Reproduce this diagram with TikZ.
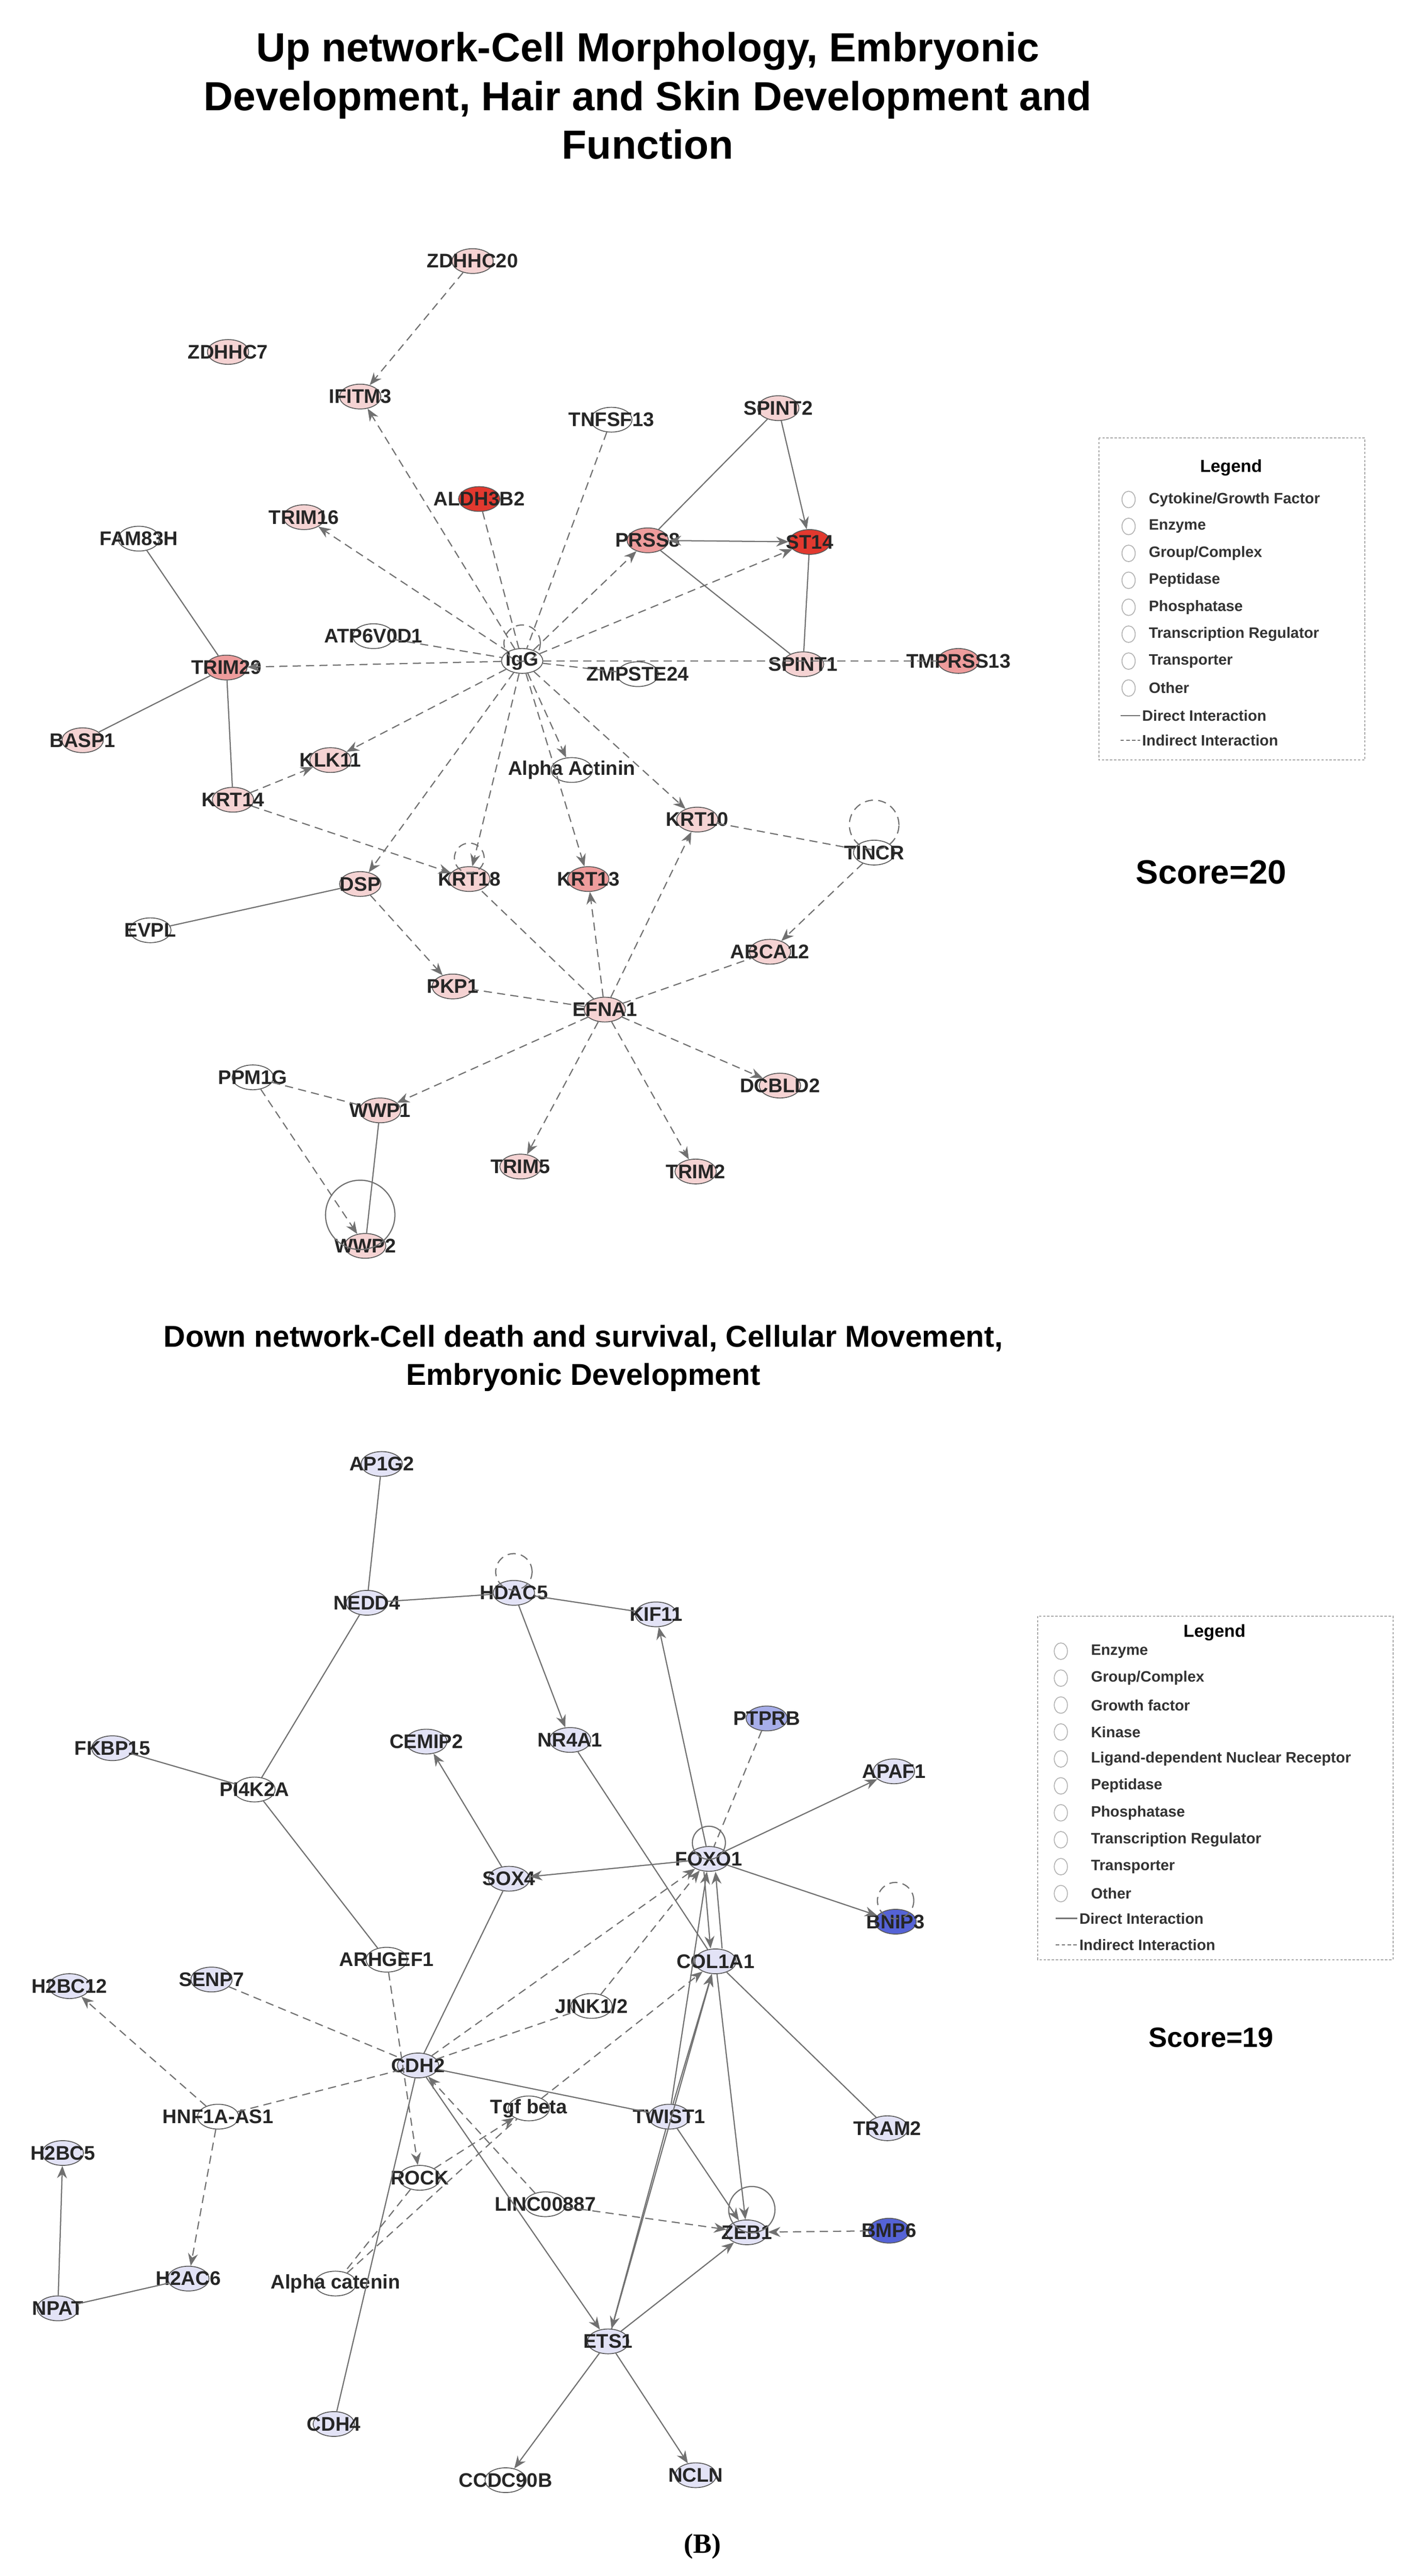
\documentclass[tikz,border=0pt]{standalone}
\usepackage{fontspec}
\setmainfont{Liberation Sans}
\newfontfamily\serifB{Liberation Serif}
\usetikzlibrary{arrows.meta,shapes.geometric}

\definecolor{upLight}{HTML}{F5D3D3}
\definecolor{upMid}{HTML}{EE9C9C}
\definecolor{upStrong}{HTML}{E2392F}
\definecolor{dnLight}{HTML}{E3E3F6}
\definecolor{dnMid}{HTML}{A7AEEA}
\definecolor{dnStrong}{HTML}{5563D6}
\definecolor{edgeGray}{HTML}{707070}

\tikzset{
  gene/.style={ellipse, draw=gray!70!black, line width=1.5pt, fill=#1,
    minimum width=2.5cm, minimum height=1.5cm, inner sep=0pt},
  glabel/.style={font=\fontsize{34}{36}\selectfont\bfseries, text=black!85},
  direct/.style={draw=edgeGray, line width=2pt},
  indirect/.style={draw=edgeGray, line width=2pt, dash pattern=on 14pt off 9pt},
  arr/.style={-{Stealth[length=0.75cm,width=0.6cm]}},
  legtext/.style={font=\fontsize{26}{28}\selectfont\bfseries, anchor=west, text=black!80},
  legicon/.style={draw=gray!60, line width=1.5pt, minimum size=0.9cm, inner sep=0pt}
}
\newcommand{\gene}[5]{\node[gene=#5, label={[glabel]center:#4}] (#1) at (#2,#3) {};}

\begin{document}
\begin{tikzpicture}[x=0.1cm, y=-0.1cm]
\useasboundingbox (0,0) rectangle (850,1559);
\clip (18,0) rectangle (850,1559);

% titles
\node[font=\fontsize{70}{84}\selectfont\bfseries, align=center] (t1) at (392,58)
  {Up network-Cell Morphology, Embryonic\\Development, Hair and Skin Development and\\Function};
\node[font=\fontsize{52}{66}\selectfont\bfseries, align=center] (t2) at (353,822)
  {Down network-Cell death and survival, Cellular Movement,\\Embryonic Development};
\node[font=\fontsize{58}{60}\selectfont\bfseries] (s1) at (733,528) {Score=20};
\node[font=\fontsize{48}{50}\selectfont\bfseries] (s2) at (733,1233) {Score=19};
\node[font=\fontsize{48}{50}\selectfont\bfseries\serifB] (b) at (425,1541) {(B)};

% up network
\gene{zdhhc20}{286}{158}{ZDHHC20}{upLight}
\gene{zdhhc7}{138}{213}{ZDHHC7}{upLight}
\gene{ifitm3}{218}{240}{IFITM3}{upLight}
\gene{tnfsf13}{370}{254}{TNFSF13}{white}
\gene{spint2}{471}{247}{SPINT2}{upLight}
\gene{aldh}{290}{302}{ALDH3B2}{upStrong}
\gene{fam}{84}{326}{FAM83H}{white}
\gene{trim16}{184}{313}{TRIM16}{upLight}
\gene{prss8}{392}{327}{PRSS8}{upMid}
\gene{st14}{490}{328}{ST14}{upStrong}
\gene{atp}{226}{385}{ATP6V0D1}{white}
\gene{igg}{316}{400}{IgG}{white}
\gene{zmp}{386}{408}{ZMPSTE24}{white}
\gene{spint1}{486}{402}{SPINT1}{upLight}
\gene{tmprss}{580}{400}{TMPRSS13}{upMid}
\gene{trim29}{137}{404}{TRIM29}{upMid}
\gene{basp}{50}{448}{BASP1}{upLight}
\gene{klk11}{200}{460}{KLK11}{upLight}
\gene{actinin}{346}{466}{Alpha Actinin}{white}
\gene{krt14}{141}{484}{KRT14}{upLight}
\gene{krt10}{422}{496}{KRT10}{upLight}
\gene{tincr}{529}{516}{TINCR}{white}
\gene{dsp}{218}{535}{DSP}{upLight}
\gene{krt18}{284}{532}{KRT18}{upLight}
\gene{krt13}{356}{532}{KRT13}{upMid}
\gene{evpl}{91}{563}{EVPL}{white}
\gene{abca}{466}{576}{ABCA12}{upLight}
\gene{pkp1}{274}{597}{PKP1}{upLight}
\gene{efna1}{366}{611}{EFNA1}{upLight}
\gene{dcbld}{472}{657}{DCBLD2}{upLight}
\gene{ppm}{153}{652}{PPM1G}{white}
\gene{wwp1}{230}{672}{WWP1}{upLight}
\gene{trim5}{315}{706}{TRIM5}{upLight}
\gene{trim2}{421}{709}{TRIM2}{upLight}
\gene{wwp2}{221}{754}{WWP2}{upLight}

\draw[indirect, arr] (zdhhc20) -- (ifitm3);
\draw[indirect, arr] (igg) -- (ifitm3);
\draw[indirect, arr] (igg) -- (trim16);
\draw[indirect] (tnfsf13) -- (igg);
\draw[indirect] (aldh) -- (igg);
\draw[indirect, arr] (igg) -- (prss8);
\draw[indirect, arr] (igg) -- (st14);
\draw[direct] (spint2) -- (prss8);
\draw[direct, arr] (spint2) -- (st14);
\draw[direct, {Stealth[length=0.75cm,width=0.6cm]}-{Stealth[length=0.75cm,width=0.6cm]}] (prss8) -- (st14);
\draw[direct] (prss8) -- (spint1);
\draw[direct] (st14) -- (spint1);
\draw[indirect] (atp) -- (igg);
\draw[indirect, arr] (igg) -- (trim29);
\draw[indirect] (igg) -- (zmp);
\draw[indirect] (igg) -- (tmprss);
\draw[direct] (fam) -- (trim29);
\draw[direct] (trim29) -- (basp);
\draw[direct] (trim29) -- (krt14);
\draw[indirect, arr] (krt14) -- (klk11);
\draw[indirect, arr] (igg) -- (klk11);
\draw[indirect, arr] (igg) -- (actinin);
\draw[indirect, arr] (igg) -- (krt10);
\draw[indirect, arr] (igg) -- (krt13);
\draw[indirect, arr] (igg) -- (krt18);
\draw[indirect, arr] (igg) -- (dsp);
\draw[indirect, arr] (krt14) -- (krt18);
\draw[indirect] (igg.north) ++(0,-3) circle[radius=1.1cm];
\draw[indirect] (krt18.north) ++(0,-5) circle[radius=0.9cm];
\draw[indirect] (tincr.north) ++(0,-9) circle[radius=1.5cm];
\draw[indirect, arr] (tincr) -- (abca);
\draw[indirect] (krt10) -- (tincr);
\draw[indirect, arr] (efna1) -- (krt10);
\draw[indirect, arr] (efna1) -- (krt13);
\draw[indirect] (efna1) -- (krt18);
\draw[direct] (dsp) -- (evpl);
\draw[indirect, arr] (dsp) -- (pkp1);
\draw[indirect] (efna1) -- (pkp1);
\draw[indirect] (efna1) -- (abca);
\draw[indirect, arr] (efna1) -- (dcbld);
\draw[indirect, arr] (efna1) -- (trim2);
\draw[indirect, arr] (efna1) -- (trim5);
\draw[indirect, arr] (efna1) -- (wwp1);
\draw[indirect] (ppm) -- (wwp1);
\draw[indirect, arr] (ppm) -- (wwp2);
\draw[direct] (wwp1) -- (wwp2);
\draw[direct] (wwp2.north) ++(-3,-11) circle[radius=2.1cm];

% up legend
\draw[draw=gray!70, line width=2pt, dash pattern=on 4pt off 3pt] (665,265) rectangle (826,460);
\node[font=\fontsize{30}{32}\selectfont\bfseries] (leg1) at (745,283) {Legend};
\foreach \t [count=\i] in {Cytokine/Growth Factor, Enzyme, Group/Complex, Peptidase,
  Phosphatase, Transcription Regulator, Transporter, Other}{
  \node[legicon, ellipse, minimum width=0.8cm, minimum height=1cm] (li\i) at (683,{286+\i*16.3}) {};
  \node[legtext] (lt\i) at (694,{286+\i*16.3}) {\t};
}
\coordinate (ld1) at (678,433); \coordinate (ld2) at (690,433);
\draw[direct] (ld1) -- (ld2);
\node[legtext] (ldt) at (690,433) {Direct Interaction};
\coordinate (li1a) at (678,448); \coordinate (li2a) at (690,448);
\draw[indirect, dash pattern=on 6pt off 4pt] (li1a) -- (li2a);
\node[legtext] (lit) at (690,448) {Indirect Interaction};

% down network
\gene{ap1g2}{231}{886}{AP1G2}{dnLight}
\gene{nedd4}{222}{970}{NEDD4}{dnLight}
\gene{hdac5}{311}{964}{HDAC5}{dnLight}
\gene{kif11}{397}{977}{KIF11}{dnLight}
\gene{ptprb}{464}{1040}{PTPRB}{dnMid}
\gene{apaf1}{541}{1072}{APAF1}{dnLight}
\gene{fkbp}{68}{1058}{FKBP15}{dnLight}
\gene{cemip}{258}{1054}{CEMIP2}{dnLight}
\gene{nr4a1}{345}{1053}{NR4A1}{dnLight}
\gene{pi4k}{154}{1083}{PI4K2A}{white}
\gene{sox4}{308}{1137}{SOX4}{dnLight}
\gene{foxo1}{429}{1125}{FOXO1}{dnLight}
\gene{bnip3}{542}{1163}{BNIP3}{dnStrong}
\gene{arhgef}{234}{1186}{ARHGEF1}{white}
\gene{senp7}{128}{1198}{SENP7}{dnLight}
\gene{h2bc12}{42}{1202}{H2BC12}{dnLight}
\gene{jink}{358}{1214}{JINK1/2}{white}
\gene{col1a1}{433}{1187}{COL1A1}{dnLight}
\gene{cdh2}{253}{1250}{CDH2}{dnLight}
\gene{tgfb}{320}{1276}{Tgf beta}{white}
\gene{twist1}{405}{1281}{TWIST1}{dnLight}
\gene{tram2}{537}{1288}{TRAM2}{dnLight}
\gene{hnf}{132}{1281}{HNF1A-AS1}{white}
\gene{h2bc5}{38}{1303}{H2BC5}{dnLight}
\gene{rock}{254}{1318}{ROCK}{white}
\gene{linc}{330}{1334}{LINC00887}{white}
\gene{zeb1}{452}{1351}{ZEB1}{dnLight}
\gene{bmp6}{538}{1350}{BMP6}{dnStrong}
\gene{npat}{35}{1397}{NPAT}{dnLight}
\gene{h2ac6}{114}{1379}{H2AC6}{dnLight}
\gene{acat}{203}{1382}{Alpha catenin}{white}
\gene{ets1}{368}{1417}{ETS1}{dnLight}
\gene{cdh4}{202}{1467}{CDH4}{dnLight}
\gene{ccdc}{306}{1501}{CCDC90B}{white}
\gene{ncln}{421}{1498}{NCLN}{dnLight}

\draw[direct] (ap1g2) -- (nedd4);
\draw[direct] (nedd4) -- (hdac5);
\draw[direct] (hdac5) -- (kif11);
\draw[indirect] (hdac5.north) ++(0,-5) circle[radius=1.1cm];
\draw[direct, arr] (hdac5) -- (nr4a1);
\draw[direct] (nedd4) -- (pi4k);
\draw[direct] (fkbp) -- (pi4k);
\draw[direct] (pi4k) -- (arhgef);
\draw[indirect, arr] (arhgef) -- (rock);
\draw[direct] (nr4a1) -- (col1a1);
\draw[indirect] (ptprb) -- (foxo1);
\draw[direct, arr] (foxo1) -- (kif11);
\draw[direct, arr] (foxo1) -- (apaf1);
\draw[direct, arr] (foxo1) -- (bnip3);
\draw[indirect] (bnip3.north) ++(0,-5) circle[radius=1.1cm];
\draw[direct, arr] (foxo1) -- (sox4);
\draw[direct] (foxo1.north) ++(0,-2) circle[radius=1cm];
\draw[direct, arr] (sox4) -- (cemip);
\draw[direct] (sox4) -- (cdh2);
\draw[direct, arr] ([xshift=-0.3cm]foxo1.south) -- ([xshift=-0.3cm]col1a1.north);
\draw[direct, arr] ([xshift=0.4cm]col1a1.north) -- ([xshift=0.4cm]foxo1.south);
\draw[direct] (col1a1) -- (tram2);
\draw[direct, arr] (col1a1) -- (zeb1);
\draw[direct, arr] (twist1) -- (col1a1);
\draw[direct, arr] (twist1) -- (foxo1);
\draw[direct, arr] (ets1) -- (col1a1);
\draw[indirect, arr] (jink) -- (foxo1);
\draw[indirect] (cdh2) -- (jink);
\draw[indirect, arr] (cdh2) -- (foxo1);
\draw[indirect, arr] (tgfb) -- (col1a1);
\draw[indirect, arr] (rock) -- (tgfb);
\draw[indirect] (senp7) -- (cdh2);
\draw[indirect] (hnf) -- (cdh2);
\draw[indirect, arr] (hnf) -- (h2bc12);
\draw[indirect, arr] (hnf) -- (h2ac6);
\draw[direct] (cdh2) -- (twist1);
\draw[direct, arr] (twist1) -- (zeb1);
\draw[direct, arr] (twist1) -- (ets1);
\draw[direct] (cdh2) -- (cdh4);
\draw[direct, arr] (cdh2) -- (ets1);
\draw[indirect, arr] (linc) -- (cdh2);
\draw[indirect, arr] (linc) -- (zeb1);
\draw[direct] (zeb1.north) ++(3,-6) circle[radius=1.4cm];
\draw[indirect, arr] (bmp6) -- (zeb1);
\draw[direct, arr] (ets1) -- (zeb1);
\draw[direct, arr] (ets1) -- (ccdc);
\draw[direct, arr] (ets1) -- (ncln);
\draw[indirect] (acat) -- (tgfb);
\draw[indirect] (rock) -- (acat);
\draw[direct, arr] (npat) -- (h2bc5);
\draw[direct] (npat) -- (h2ac6);

% down legend
\draw[draw=gray!70, line width=2pt, dash pattern=on 4pt off 3pt] (628,978) rectangle (843,1186);
\node[font=\fontsize{30}{32}\selectfont\bfseries] (leg2) at (735,988) {Legend};
\foreach \t [count=\i] in {Enzyme, Group/Complex, Growth factor, Kinase,
  Ligand-dependent Nuclear Receptor, Peptidase, Phosphatase,
  Transcription Regulator, Transporter, Other}{
  \node[legicon, ellipse, minimum width=0.8cm, minimum height=1cm] (mi\i) at (642,{983+\i*16.3}) {};
  \node[legtext] (mt\i) at (659,{983+\i*16.3}) {\t};
}
\coordinate (md1) at (639,1161); \coordinate (md2) at (652,1161);
\draw[direct] (md1) -- (md2);
\node[legtext] (mdt) at (652,1161) {Direct Interaction};
\coordinate (mi1a) at (639,1177); \coordinate (mi2a) at (652,1177);
\draw[indirect, dash pattern=on 6pt off 4pt] (mi1a) -- (mi2a);
\node[legtext] (mit) at (652,1177) {Indirect Interaction};
\end{tikzpicture}
\end{document}
